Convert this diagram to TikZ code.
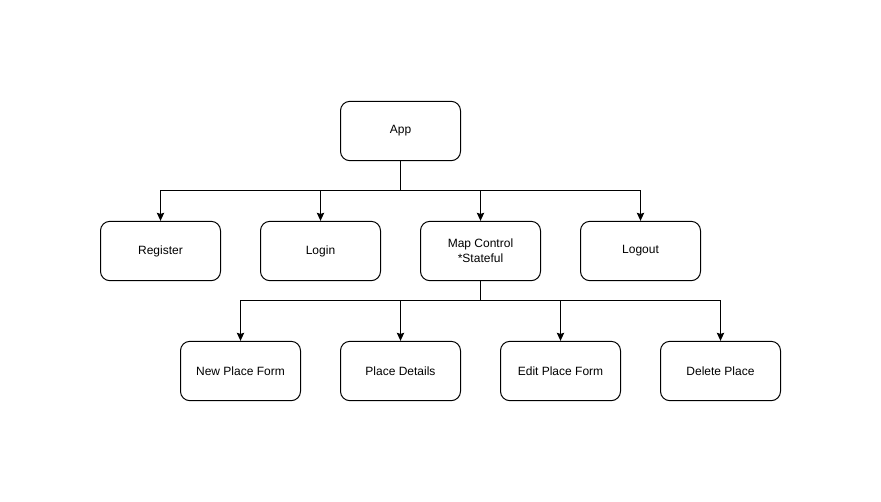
\documentclass[tikz,border=0pt]{standalone}
\usepackage{fontspec}
\setmainfont{Liberation Sans}
\usetikzlibrary{arrows.meta}
\begin{document}
\begin{tikzpicture}[x=0.75pt,y=-0.75pt,> = {Stealth[length=6pt,width=5.5pt,inset=0.8pt]},
    comp/.style={draw, line width=0.75pt, rounded corners=7pt, minimum width=90pt, minimum height=44.5pt, align=center, font=\fontsize{9}{11}\selectfont},
    link/.style={line width=0.75pt}]
			\useasboundingbox (0,0) rectangle (881,501);
			
			% Root
			\node[comp] (app) at (400.5,131) {App};
			
			% Second level
			\node[comp] (register) at (160.5,251) {Register};
			\node[comp] (login) at (320.5,251) {Login};
			\node[comp] (mapctrl) at (480.5,251) {Map Control\\*Stateful};
			\node[comp] (logout) at (640.5,251) {Logout};
			
			% Third level
			\node[comp] (newplace) at (240.5,371) {New Place Form};
			\node[comp] (details) at (400.5,371) {Place Details};
			\node[comp] (editplace) at (560.5,371) {Edit Place Form};
			\node[comp] (delplace) at (720.5,371) {Delete Place};
			
			% Branch points
			\coordinate (appsplit) at (400.5,190.5);
			\coordinate (mapsplit) at (480.5,300.5);
			
			% Connectors
			\draw[link] (app.south) -- (appsplit);
			\foreach \child in {register,login,mapctrl,logout}
				\draw[link,->] (appsplit) -| (\child.north);
			\draw[link] (mapctrl.south) -- (mapsplit);
			\foreach \child in {newplace,details,editplace,delplace}
				\draw[link,->] (mapsplit) -| (\child.north);
		\end{tikzpicture}
\end{document}
